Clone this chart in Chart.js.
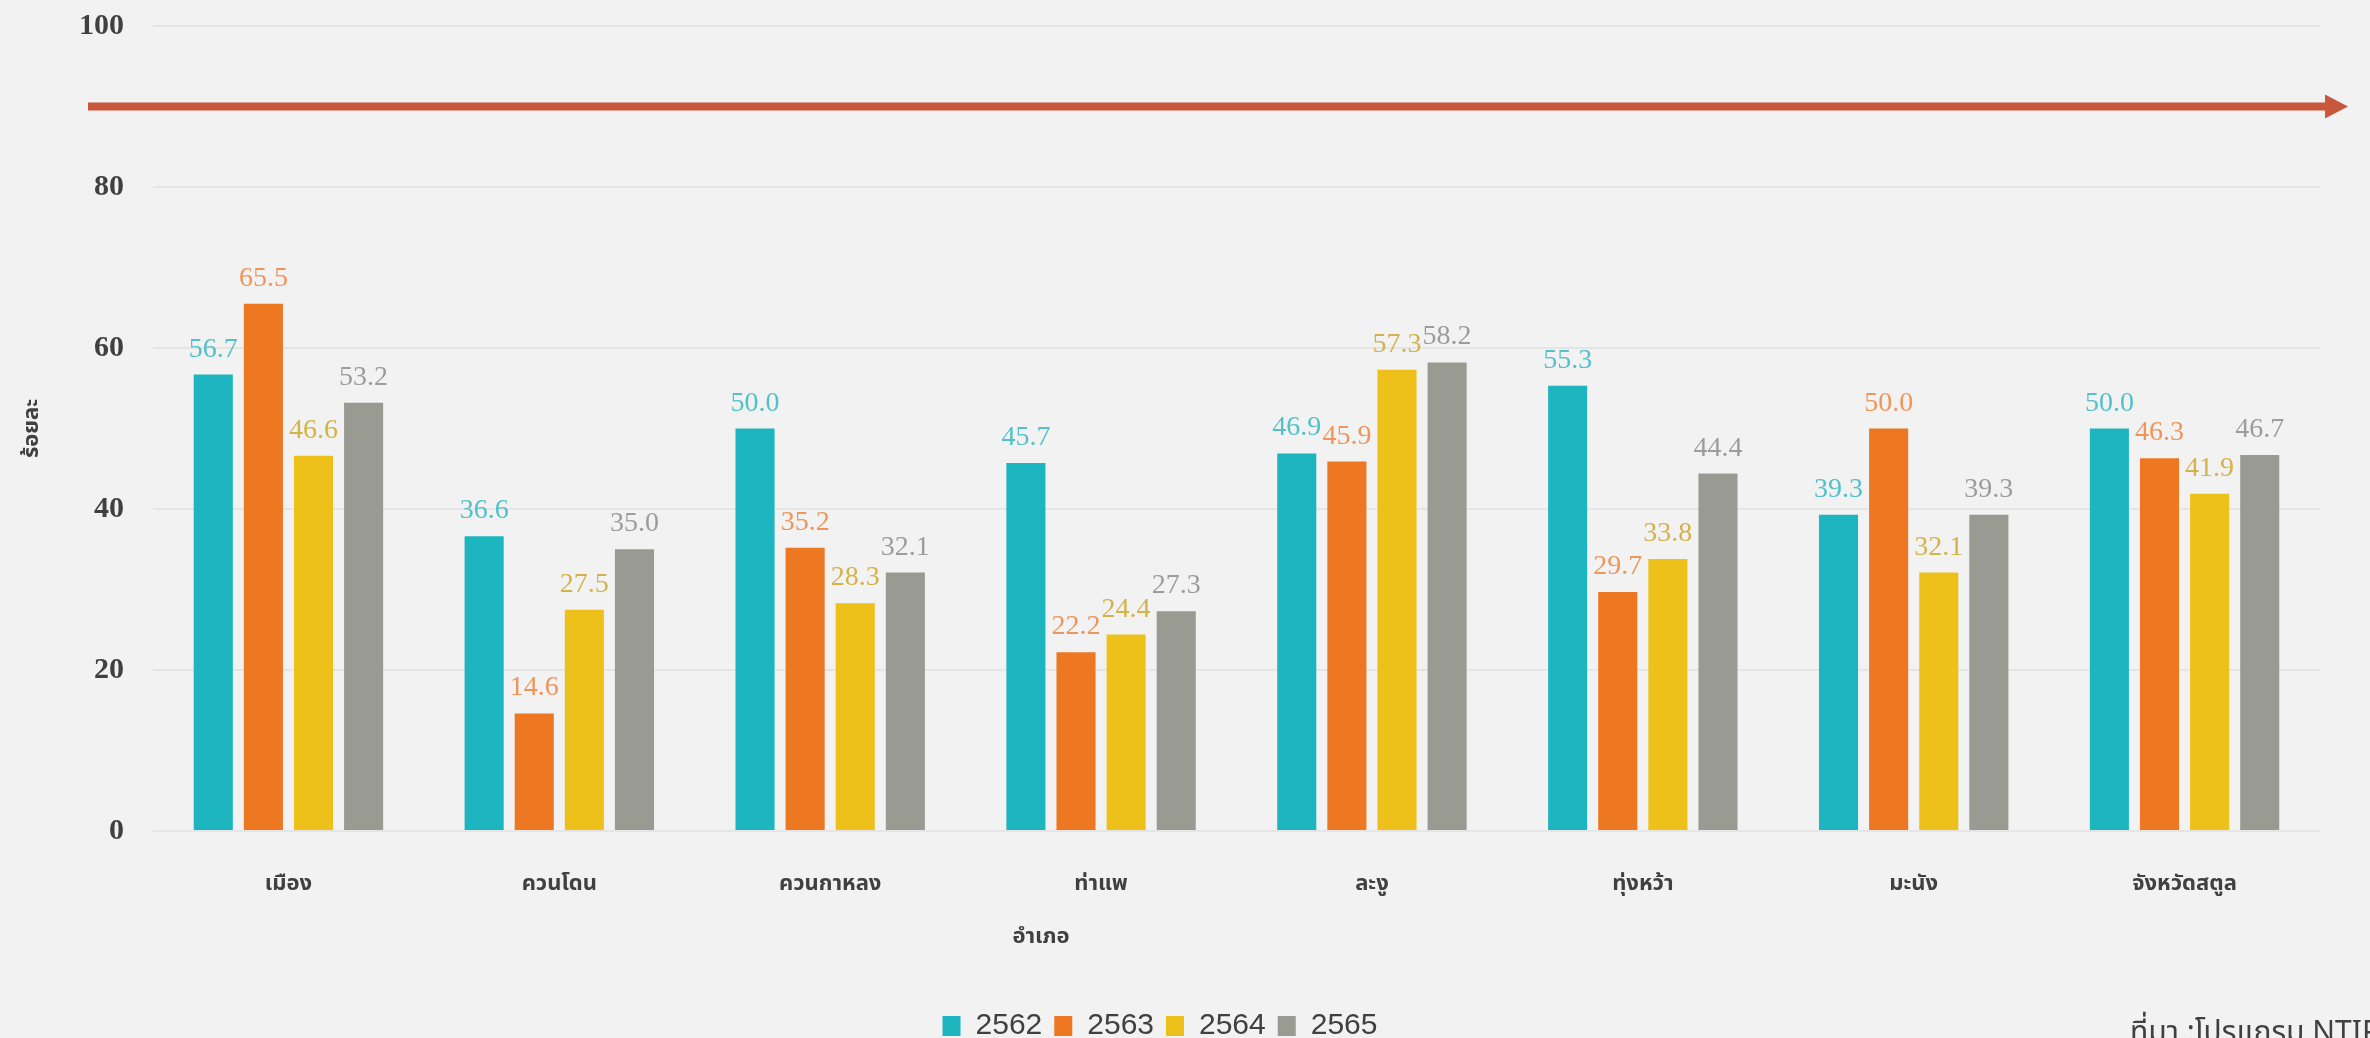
<!DOCTYPE html>
<html>
<head>
<meta charset="UTF-8" />
<title>ร้อยละ รายอำเภอ 2562-2565</title>
<script src="https://cdn.jsdelivr.net/npm/chart.js@4"></script>
<style>
  html, body { margin: 0; padding: 0; background: #f2f2f2; }
  #wrap { width: 2370px; height: 1038px; position: relative; overflow: hidden; }
</style>
</head>
<body>
<div id="wrap"><canvas id="chart" width="2370" height="1038"></canvas></div>
<script>
// --- data ---
const districts = ['เมือง', 'ควนโดน', 'ควนกาหลง', 'ท่าแพ', 'ละงู', 'ทุ่งหว้า', 'มะนัง', 'จังหวัดสตูล'];
const years = ['2562', '2563', '2564', '2565'];
const y2562 = [56.7, 36.6, 50.0, 45.7, 46.9, 55.3, 39.3, 50.0];
const y2563 = [65.5, 14.6, 35.2, 22.2, 45.9, 29.7, 50.0, 46.3];
const y2564 = [46.6, 27.5, 28.3, 24.4, 57.3, 33.8, 32.1, 41.9];
const y2565 = [53.2, 35.0, 32.1, 27.3, 58.2, 44.4, 39.3, 46.7];
const yTicks = [0, 20, 40, 60, 80, 100];
const arrowLevel = 90;

const barColors = ['#1db5c0', '#ee7722', '#eec11a', '#999a92'];
const labelColors = ['#52c1c9', '#f0955a', '#d3b34a', '#9c9c9c'];
const thai = "'Noto Sans Thai', 'Noto Sans', 'DejaVu Sans', sans-serif";

// value labels, arrow, x title, source note
const overlay = {
  id: 'overlay',
  beforeDraw(chart) {
    const ctx = chart.ctx;
    ctx.save();
    ctx.fillStyle = '#f2f2f2';
    ctx.fillRect(0, 0, chart.width, chart.height);
    ctx.restore();
  },
  afterDatasetsDraw(chart) {
    const ctx = chart.ctx;
    const area = chart.chartArea;
    ctx.save();
    ctx.font = '28px "Liberation Serif"';
    ctx.textAlign = 'center';
    ctx.textBaseline = 'alphabetic';
    chart.data.datasets.forEach((ds, i) => {
      const meta = chart.getDatasetMeta(i);
      ctx.fillStyle = labelColors[i];
      meta.data.forEach((bar, j) => {
        ctx.fillText(ds.data[j].toFixed(1), bar.x, bar.y - 18);
      });
    });

    // arrow
    const ay = chart.scales.y.getPixelForValue(arrowLevel);
    const x0 = area.left - 65, x1 = area.right + 5, tip = area.right + 28;
    ctx.strokeStyle = '#c9573b';
    ctx.lineWidth = 8;
    ctx.beginPath();
    ctx.moveTo(x0, ay);
    ctx.lineTo(x1, ay);
    ctx.stroke();
    ctx.fillStyle = '#c9573b';
    ctx.beginPath();
    ctx.moveTo(x1, ay - 12);
    ctx.lineTo(tip, ay);
    ctx.lineTo(x1, ay + 12);
    ctx.closePath();
    ctx.fill();

    // x axis title
    ctx.fillStyle = '#404040';
    ctx.font = 'bold 22px ' + thai;
    ctx.textBaseline = 'middle';
    ctx.fillText('อำเภอ', chart.scales.x.getPixelForValue(3) - 60, 939);

    // source note (runs off the right edge like the original)
    ctx.textAlign = 'left';
    ctx.textBaseline = 'alphabetic';
    ctx.font = '30px ' + thai;
    ctx.fillStyle = '#404040';
    ctx.fillText('ที่มา :โปรแกรม NTIP', 2130, 1042);
    ctx.restore();
  }
};

const series = [y2562, y2563, y2564, y2565];

new Chart(document.getElementById('chart'), {
  type: 'bar',
  data: {
    labels: districts,
    datasets: years.map((yr, i) => ({
      label: yr,
      data: series[i],
      backgroundColor: barColors[i],
      borderWidth: 0,
      categoryPercentage: 0.74,
      barPercentage: 0.78
    }))
  },
  options: {
    responsive: false,
    animation: false,
    layout: { padding: { top: 26, right: 50, left: 0, bottom: -13 } },
    plugins: {
      tooltip: { enabled: false },
      legend: {
        position: 'bottom',
        labels: {
          boxWidth: 18,
          boxHeight: 20,
          padding: 12,
          color: '#404040',
          font: { family: "'Liberation Sans', Arial, sans-serif", size: 30 }
        }
      }
    },
    scales: {
      x: {
        grid: { display: false },
        border: { display: false },
        ticks: {
          color: '#404040',
          padding: 33,
          font: { family: thai, size: 22, weight: 'bold' }
        },
        afterFit(scale) { scale.height = 168; }
      },
      y: {
        min: 0,
        max: 100,
        afterBuildTicks(scale) { scale.ticks = yTicks.map(v => ({ value: v })); },
        grid: { color: '#e5e5e5', lineWidth: 2, drawTicks: false },
        border: { display: false },
        ticks: {
          color: '#404040',
          padding: 29,
          font: { family: "'Liberation Serif', serif", size: 30, weight: 'bold' }
        },
        title: {
          display: true,
          text: 'ร้อยละ',
          color: '#404040',
          padding: { top: 20, bottom: 0 },
          font: { family: thai, size: 22, weight: 'bold' }
        },
        afterFit(scale) {
          scale.width = 153;
          scale.paddingTop = 0;
          scale.paddingBottom = 0;
        }
      }
    }
  },
  plugins: [overlay]
});
</script>
</body>
</html>
